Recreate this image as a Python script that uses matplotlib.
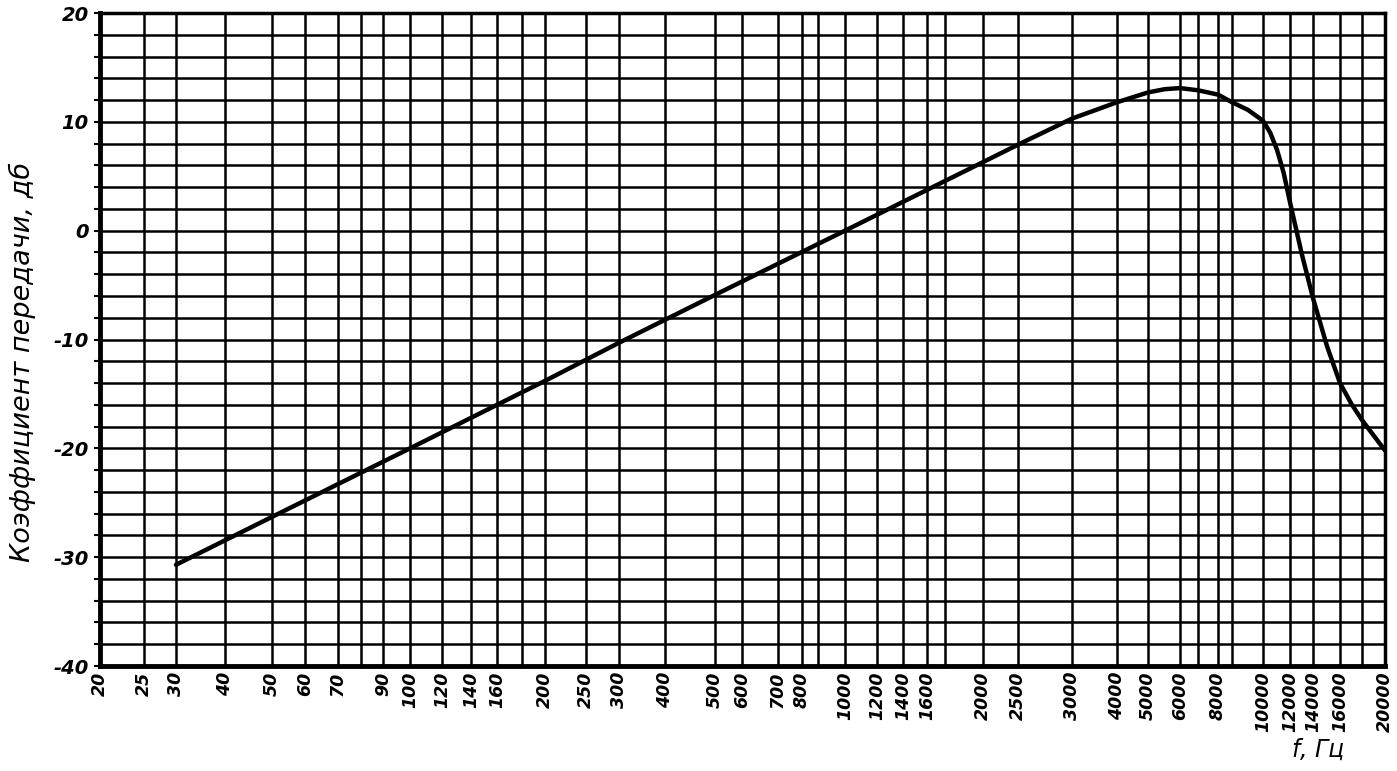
import numpy as np
import matplotlib
matplotlib.use("Agg")
import matplotlib.pyplot as plt
from matplotlib.ticker import NullLocator

# grid lines of the hand drawn frequency scale (Hz) and where they sit on the sheet
grid_freqs = [20, 25, 30, 40, 50, 60, 70, 80, 90, 100, 120, 140, 160, 180, 200,
              250, 300, 400, 500, 600, 700, 800, 900, 1000, 1200, 1400, 1600, 1800,
              2000, 2500, 3000, 4000, 5000, 6000, 7000, 8000, 9000, 10000,
              12000, 14000, 16000, 18000, 20000]
grid_pos = [100, 144, 176, 225, 272, 305, 338, 361, 383, 410, 442, 471, 497, 522, 545,
            586, 619, 665, 715, 742, 778, 802, 818, 845, 877, 903, 927, 945,
            983, 1018, 1072, 1117, 1148, 1180, 1198, 1218, 1232, 1263,
            1290, 1313, 1340, 1362, 1385]
labeled = [20, 25, 30, 40, 50, 60, 70, 90, 100, 120, 140, 160, 200, 250, 300, 400,
           500, 600, 700, 800, 1000, 1200, 1400, 1600, 2000, 2500, 3000, 4000,
           5000, 6000, 8000, 10000, 12000, 14000, 16000, 20000]

# frequency response (dB)
freq = [30, 50, 100, 200, 300, 500, 1000, 2000, 2500, 3000, 3500, 4000, 5000,
        5500, 6000, 7000, 8000, 9000, 9500, 10000, 10500, 11000, 11500, 12000, 13000,
        14000, 15000, 16000, 17000, 18000, 20000]
gain = [-30.7, -26.3, -20.0, -13.8, -10.3, -5.9, 0.0, 6.3, 7.9, 10.3, 11.1, 11.8, 12.7,
        13.0, 13.1, 12.9, 12.5, 11.8, 11.1, 10.1, 9.0, 7.4, 5.3, 2.6, -2.2,
        -6.2, -10.6, -14.0, -15.9, -17.4, -20.2]

lg = np.log10(grid_freqs)


def fwd(x):
    x = np.clip(np.asarray(x, dtype=float), 1e-3, None)
    return np.interp(np.log10(x), lg, grid_pos)


def inv(p):
    return 10 ** np.interp(np.asarray(p, dtype=float), grid_pos, lg)


plt.rcParams['font.family'] = ['DejaVu Sans']

fig = plt.figure(figsize=(13.97, 7.71), dpi=100)
ax = fig.add_axes([100 / 1397, 1 - 666 / 771, 1285 / 1397, 653 / 771])

ax.set_xscale('function', functions=(fwd, inv))
ax.set_xlim(20, 20000)
ax.set_ylim(-40, 20)

ax.set_xticks(grid_freqs)
ax.set_xticklabels([str(f) if f in labeled else '' for f in grid_freqs],
                   rotation=90, fontsize=12.5, fontweight='bold', fontstyle='italic')
ax.xaxis.set_minor_locator(NullLocator())
ax.tick_params(axis='x', length=0, pad=4)

yt = list(range(-40, 21, 2))
ax.set_yticks(yt)
ax.set_yticklabels([str(v) if v % 10 == 0 else '' for v in yt],
                   fontsize=14, fontweight='bold', fontstyle='italic')
ax.tick_params(axis='y', length=4, width=1.5, pad=4)

ax.grid(True, color='black', linewidth=1.8)
for s in ax.spines.values():
    s.set_linewidth(2.5)
ax.spines['left'].set_linewidth(3.5)
ax.spines['bottom'].set_linewidth(3.5)

ax.plot(freq, gain, color='black', linewidth=3.2, solid_capstyle='round',
        solid_joinstyle='round')

fig.text(22 / 1397, 1 - 362 / 771, 'Коэффициент передачи, дб', rotation=90,
         fontsize=19.5, fontstyle='italic', ha='center', va='center')
fig.text(1318 / 1397, 1 - 750 / 771, 'f, Гц', fontsize=17, fontstyle='italic',
         ha='center', va='center')

fig.savefig('out.png', dpi=100)
